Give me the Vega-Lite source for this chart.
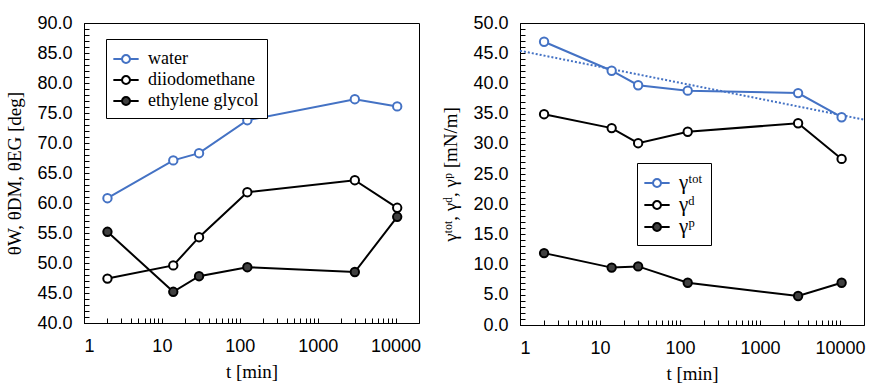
{
  "$schema": "https://vega.github.io/schema/vega-lite/v6.json",
  "padding": {"left": 5, "top": 13, "right": 5, "bottom": 5},
  "background": "white",
  "config": {
    "view": {"stroke": "black", "strokeWidth": 1},
    "axis": {
      "domainColor": "black", "tickColor": "black", "tickSize": -5, "grid": false, "tickCount": 1000,
      "labelFont": "Liberation Sans", "labelFontSize": 18, "labelColor": "black",
      "labelOverlap": false, "labelBound": false,
      "titleFont": "Liberation Serif", "titleFontSize": 19, "titleFontWeight": "normal", "titleColor": "black"
    },
    "legend": {
      "symbolType": "M-1.15,0H-0.36M0.36,0H1.15M-0.36,0A0.36,0.36 0 1,0 0.36,0A0.36,0.36 0 1,0 -0.36,0Z",
      "symbolSize": 484, "symbolStrokeWidth": 2,
      "labelFont": "Liberation Serif", "labelFontSize": 18, "labelColor": "black", "labelLimit": 400,
      "strokeColor": "black", "fillColor": "white", "padding": 8, "rowPadding": 0, "labelOffset": 10
    }
  },
  "datasets": {
    "angles": [
      {"t": 2, "angle": 60.8, "liquid": "water"},
      {"t": 14, "angle": 67.1, "liquid": "water"},
      {"t": 30, "angle": 68.3, "liquid": "water"},
      {"t": 125, "angle": 73.8, "liquid": "water"},
      {"t": 3000, "angle": 77.3, "liquid": "water"},
      {"t": 10500, "angle": 76.1, "liquid": "water"},
      {"t": 2, "angle": 47.4, "liquid": "diiodomethane"},
      {"t": 14, "angle": 49.6, "liquid": "diiodomethane"},
      {"t": 30, "angle": 54.3, "liquid": "diiodomethane"},
      {"t": 125, "angle": 61.8, "liquid": "diiodomethane"},
      {"t": 3000, "angle": 63.8, "liquid": "diiodomethane"},
      {"t": 10500, "angle": 59.2, "liquid": "diiodomethane"},
      {"t": 2, "angle": 55.2, "liquid": "ethylene glycol"},
      {"t": 14, "angle": 45.2, "liquid": "ethylene glycol"},
      {"t": 30, "angle": 47.8, "liquid": "ethylene glycol"},
      {"t": 125, "angle": 49.3, "liquid": "ethylene glycol"},
      {"t": 3000, "angle": 48.5, "liquid": "ethylene glycol"},
      {"t": 10500, "angle": 57.7, "liquid": "ethylene glycol"}
    ],
    "energy": [
      {"t": 2, "gamma": 46.9, "component": "γᵗᵒᵗ"},
      {"t": 14, "gamma": 42.1, "component": "γᵗᵒᵗ"},
      {"t": 30, "gamma": 39.7, "component": "γᵗᵒᵗ"},
      {"t": 125, "gamma": 38.8, "component": "γᵗᵒᵗ"},
      {"t": 3000, "gamma": 38.4, "component": "γᵗᵒᵗ"},
      {"t": 10500, "gamma": 34.4, "component": "γᵗᵒᵗ"},
      {"t": 2, "gamma": 34.9, "component": "γᵈ"},
      {"t": 14, "gamma": 32.6, "component": "γᵈ"},
      {"t": 30, "gamma": 30.1, "component": "γᵈ"},
      {"t": 125, "gamma": 32.0, "component": "γᵈ"},
      {"t": 3000, "gamma": 33.4, "component": "γᵈ"},
      {"t": 10500, "gamma": 27.5, "component": "γᵈ"},
      {"t": 2, "gamma": 11.9, "component": "γᵖ"},
      {"t": 14, "gamma": 9.5, "component": "γᵖ"},
      {"t": 30, "gamma": 9.7, "component": "γᵖ"},
      {"t": 125, "gamma": 7.0, "component": "γᵖ"},
      {"t": 3000, "gamma": 4.8, "component": "γᵖ"},
      {"t": 10500, "gamma": 7.0, "component": "γᵖ"}
    ],
    "trend": [
      {"t": 1, "gamma": 45.4},
      {"t": 20000, "gamma": 34.0}
    ]
  },
  "spacing": 19,
  "resolve": {"scale": {"stroke": "independent", "fill": "independent"}, "legend": {"stroke": "independent", "fill": "independent"}},
  "hconcat": [
    {
      "width": 335,
      "height": 300,
      "data": {"name": "angles"},
      "layer": [
        {
          "mark": {"type": "line", "strokeWidth": 2},
          "encoding": {
            "x": {"field": "t", "type": "quantitative",
              "scale": {"type": "log", "domain": [1, 20000], "nice": false},
              "axis": {"title": "t [min]", "format": "d", "labelPadding": 19, "titlePadding": 7, "labelOverlap": false, "tickCount": 1000,
                "values": [1,2,3,4,5,6,7,8,9,10,20,30,40,50,60,70,80,90,100,200,300,400,500,600,700,800,900,1000,2000,3000,4000,5000,6000,7000,8000,9000,10000],
                "labelExpr": "indexof([1,10,100,1000,10000], datum.value) >= 0 ? datum.label : ''"}},
            "y": {"field": "angle", "type": "quantitative",
              "scale": {"domain": [40, 90], "nice": false, "zero": false},
              "axis": {"title": "θW, θDM, θEG [deg]", "labelPadding": 17, "titlePadding": 12, "labelOverlap": false, "tickCount": 1000,
                "values": [40,41,42,43,44,45,46,47,48,49,50,51,52,53,54,55,56,57,58,59,60,61,62,63,64,65,66,67,68,69,70,71,72,73,74,75,76,77,78,79,80,81,82,83,84,85,86,87,88,89,90],
                "labelExpr": "datum.value % 5 == 0 ? format(datum.value, '.1f') : ''"}},
            "stroke": {"field": "liquid", "type": "nominal",
              "scale": {"domain": ["water", "diiodomethane", "ethylene glycol"], "range": ["#4472C4", "#000000", "#000000"]},
              "legend": {"title": null, "orient": "none", "legendX": 22, "legendY": 16, "labelFont": "Liberation Serif", "labelFontSize": 18}},
            "detail": {"field": "liquid"}
          }
        },
        {
          "mark": {"type": "circle", "size": 70, "strokeWidth": 2, "opacity": 1},
          "encoding": {
            "x": {"field": "t", "type": "quantitative"},
            "y": {"field": "angle", "type": "quantitative"},
            "stroke": {"field": "liquid", "type": "nominal",
              "legend": {"title": null, "orient": "none", "legendX": 22, "legendY": 16, "labelFont": "Liberation Serif", "labelFontSize": 18}},
            "fill": {"field": "liquid", "type": "nominal",
              "scale": {"domain": ["water", "diiodomethane", "ethylene glycol"], "range": ["#ffffff", "#ffffff", "#404040"]},
              "legend": {"title": null, "orient": "none", "legendX": 22, "legendY": 16, "labelFont": "Liberation Serif", "labelFontSize": 18}}
          }
        }
      ]
    },
    {
      "width": 344,
      "height": 302,
      "layer": [
        {
          "data": {"name": "trend"},
          "mark": {"type": "line", "strokeWidth": 2, "strokeDash": [2, 2], "color": "#4472C4"},
          "encoding": {
            "x": {"field": "t", "type": "quantitative"},
            "y": {"field": "gamma", "type": "quantitative"}
          }
        },
        {
          "data": {"name": "energy"},
          "mark": {"type": "line", "strokeWidth": 2},
          "encoding": {
            "x": {"field": "t", "type": "quantitative",
              "scale": {"type": "log", "domain": [1, 20000], "nice": false},
              "axis": {"title": "t [min]", "format": "d", "labelPadding": 19, "titlePadding": 7, "labelOverlap": false, "tickCount": 1000,
                "values": [1,2,3,4,5,6,7,8,9,10,20,30,40,50,60,70,80,90,100,200,300,400,500,600,700,800,900,1000,2000,3000,4000,5000,6000,7000,8000,9000,10000],
                "labelExpr": "indexof([1,10,100,1000,10000], datum.value) >= 0 ? datum.label : ''"}},
            "y": {"field": "gamma", "type": "quantitative",
              "scale": {"domain": [0, 50], "nice": false},
              "axis": {"title": "γᵗᵒᵗ, γᵈ, γᵖ [mN/m]", "labelPadding": 17, "titlePadding": 12, "labelOverlap": false, "tickCount": 1000,
                "values": [0,1,2,3,4,5,6,7,8,9,10,11,12,13,14,15,16,17,18,19,20,21,22,23,24,25,26,27,28,29,30,31,32,33,34,35,36,37,38,39,40,41,42,43,44,45,46,47,48,49,50],
                "labelExpr": "datum.value % 5 == 0 ? format(datum.value, '.1f') : ''"}},
            "stroke": {"field": "component", "type": "nominal",
              "scale": {"domain": ["γᵗᵒᵗ", "γᵈ", "γᵖ"], "range": ["#4472C4", "#000000", "#000000"]},
              "legend": {"title": null, "orient": "none", "legendX": 117, "legendY": 140, "labelFont": "Liberation Serif", "labelFontSize": 21}},
            "detail": {"field": "component"}
          }
        },
        {
          "data": {"name": "energy"},
          "mark": {"type": "circle", "size": 70, "strokeWidth": 2, "opacity": 1},
          "encoding": {
            "x": {"field": "t", "type": "quantitative"},
            "y": {"field": "gamma", "type": "quantitative"},
            "stroke": {"field": "component", "type": "nominal",
              "legend": {"title": null, "orient": "none", "legendX": 117, "legendY": 140, "labelFont": "Liberation Serif", "labelFontSize": 21}},
            "fill": {"field": "component", "type": "nominal",
              "scale": {"domain": ["γᵗᵒᵗ", "γᵈ", "γᵖ"], "range": ["#ffffff", "#ffffff", "#404040"]},
              "legend": {"title": null, "orient": "none", "legendX": 117, "legendY": 140, "labelFont": "Liberation Serif", "labelFontSize": 21}}
          }
        }
      ]
    }
  ]
}
